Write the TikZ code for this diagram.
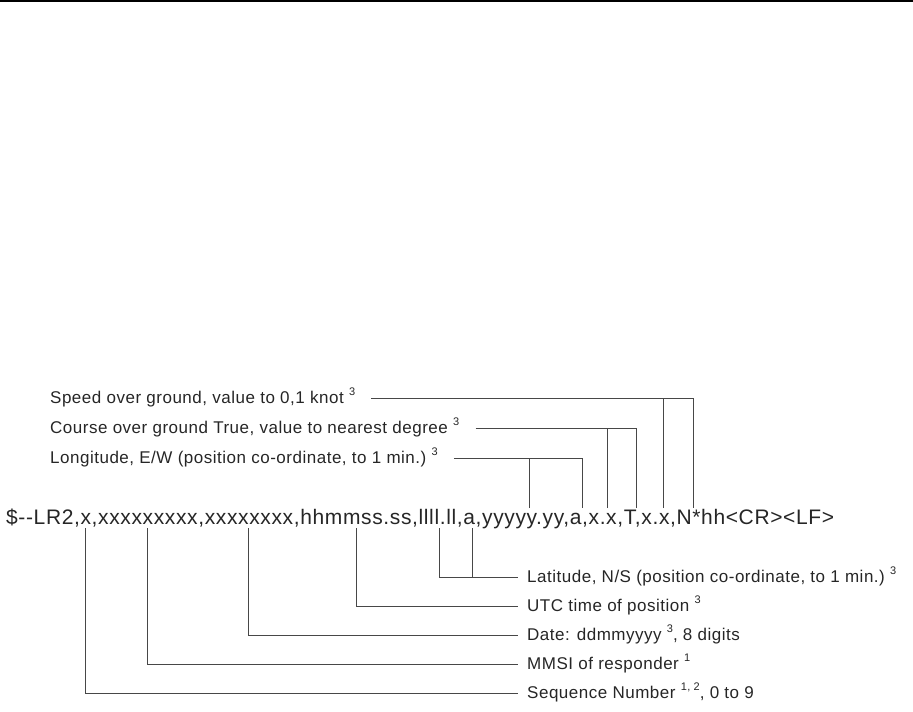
\documentclass[tikz,border=0pt]{standalone}
\usepackage{fontspec}
\setmainfont{Liberation Sans}
\newfontfamily\lblfont[LetterSpace=3]{Liberation Sans}
\newfontfamily\msgfont[LetterSpace=3]{Liberation Sans}
\newcommand{\sx}[1]{\ \raisebox{0.5em}{\fontsize{11}{11}\selectfont #1}}
\begin{document}
\begin{tikzpicture}[x=1pt,y=-1pt,
  lbl/.style={inner sep=0pt, anchor=base west, font=\lblfont\fontsize{17}{20}\selectfont, text=black!85},
  msgstyle/.style={inner sep=0pt, anchor=base west, font=\msgfont\fontsize{21}{25}\selectfont, text=black!85},
  conn/.style={draw=black!72, line width=1pt}]
\useasboundingbox (0,0) rectangle (913,712);
\draw[line width=1.6pt] (0,0.8) -- (913,0.8);

% message sentence
\node[msgstyle] (msg) at (6,524) {\$--LR2,x,xxxxxxxxx,xxxxxxxx,hhmmss.ss,llll.ll,a,yyyyy.yy,a,x.x,T,x.x,N*hh<CR><LF>};

% upper labels
\node[lbl] (lspd) at (50,403.5) {Speed over ground, value to 0,1 knot\sx{3}};
\node[lbl] (lcog) at (50,433.5) {Course over ground True, value to nearest degree\sx{3}};
\node[lbl] (llon) at (50,463.5) {Longitude, E/W (position co-ordinate, to 1 min.)\sx{3}};

% lower labels
\node[lbl] (llat) at (527,582.5) {Latitude, N/S (position co-ordinate, to 1 min.)\sx{3}};
\node[lbl] (lutc) at (527,611.5) {UTC time of position\sx{3}};
\node[lbl] (ldate) at (527,640.5) {Date: ddmmyyyy\sx{3}, 8 digits};
\node[lbl] (lmmsi) at (527,669.5) {MMSI of responder\sx{1}};
\node[lbl] (lseq) at (527,698.5) {Sequence Number\sx{1, 2}, 0 to 9};

% tap points on the sentence (top)
\coordinate (spdA) at (663,508);
\coordinate (spdB) at (693,508);
\coordinate (cogA) at (607,508);
\coordinate (cogB) at (636,508);
\coordinate (lonA) at (529,508);
\coordinate (lonB) at (582,508);
% tap points on the sentence (bottom)
\coordinate (latA) at (439,528);
\coordinate (latB) at (472,528);
\coordinate (utcA) at (356,528);
\coordinate (dateA) at (248,528);
\coordinate (mmsiA) at (147,528);
\coordinate (seqA) at (85,528);

% upper connectors
\draw[conn] ([shift={(16pt,5.5pt)}]lspd.base east) coordinate (spdL) -| (spdB);
\draw[conn] (spdA) -- (spdA |- spdL);
\draw[conn] ([shift={(16pt,5.5pt)}]lcog.base east) coordinate (cogL) -| (cogB);
\draw[conn] (cogA) -- (cogA |- cogL);
\draw[conn] ([shift={(16pt,5.5pt)}]llon.base east) coordinate (lonL) -| (lonB);
\draw[conn] (lonA) -- (lonA |- lonL);

% lower connectors
\draw[conn] (latA) |- ([shift={(-9pt,5.5pt)}]llat.base west) coordinate (latR);
\draw[conn] (latB) -- (latB |- latR);
\draw[conn] (utcA) |- ([shift={(-9pt,5.5pt)}]lutc.base west);
\draw[conn] (dateA) |- ([shift={(-9pt,5.5pt)}]ldate.base west);
\draw[conn] (mmsiA) |- ([shift={(-9pt,5.5pt)}]lmmsi.base west);
\draw[conn] (seqA) |- ([shift={(-9pt,5.5pt)}]lseq.base west);
\end{tikzpicture}
\end{document}
